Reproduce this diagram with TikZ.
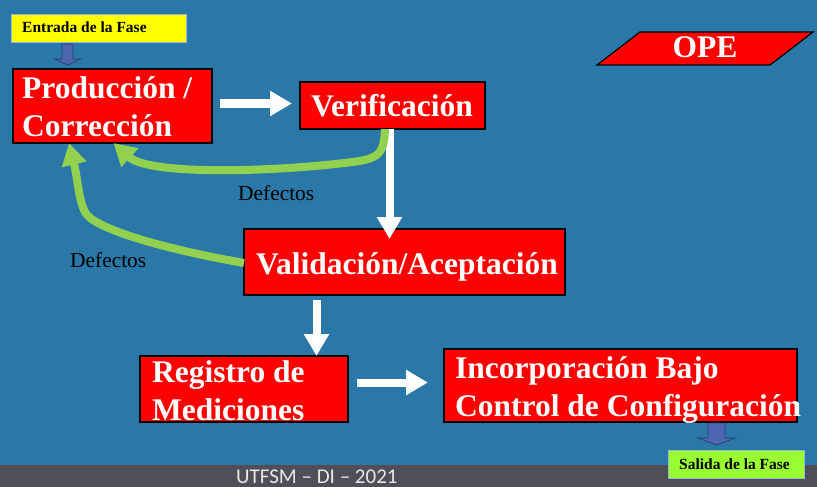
\documentclass[tikz,border=0pt]{standalone}
\usepackage{fontspec}
\setmainfont{Liberation Serif}
\newfontfamily\footfont{Carlito}
\usetikzlibrary{arrows.meta}
\definecolor{bgblue}{RGB}{41,120,168}
\definecolor{bargray}{RGB}{78,79,88}
\definecolor{boxred}{RGB}{255,0,0}
\definecolor{defgreen}{RGB}{146,208,80}
\definecolor{arrblue}{RGB}{76,102,176}
\definecolor{arrblueline}{RGB}{46,63,110}
\definecolor{inyellow}{RGB}{255,255,0}
\definecolor{outgreen}{RGB}{153,255,51}
\definecolor{paleborder}{RGB}{150,185,210}
\definecolor{foottext}{RGB}{232,232,232}
\tikzset{
  redbox/.style={draw=black, line width=1.2pt, fill=boxred, inner sep=0pt, outer sep=0pt},
  boxtext/.style={text=white, font=\bfseries\fontsize{31.5}{37}\selectfont, anchor=base west, inner sep=0pt},
  smallbox/.style={draw=paleborder, line width=0.8pt, inner sep=0pt, outer sep=0pt},
  smalltext/.style={text=black, font=\bfseries\fontsize{15.5}{18}\selectfont, anchor=base west, inner sep=0pt},
  deftext/.style={text=black, font=\fontsize{21.4}{24}\selectfont, anchor=base west, inner sep=0pt},
  whitearrow/.style={draw=white, line width=8pt, -{Triangle[width=24pt,length=22pt]}},
  greenarrow/.style={draw=defgreen, line width=8pt, -{Triangle[width=24pt,length=22pt]}},
  bluearrow/.style={fill=arrblue, draw=arrblueline, line width=0.8pt}
}
\begin{document}
\begin{tikzpicture}[x=1pt,y=-1pt]
\useasboundingbox (0,0) rectangle (817,487);
\clip (0,0) rectangle (817,487);
\fill[bgblue] (0,0) rectangle (817,465);
\fill[bargray] (0,465) rectangle (817,487);

% boxes
\node[redbox, minimum width=199pt, minimum height=74pt] (prod) at (112.5,106) {};
\node[redbox, minimum width=185pt, minimum height=47pt] (verif) at (392.5,105.5) {};
\node[redbox, minimum width=321pt, minimum height=66pt] (valid) at (404.5,262) {};
\node[redbox, minimum width=208pt, minimum height=66pt] (reg) at (244,389) {};
\node[redbox, minimum width=353pt, minimum height=73pt] (inc) at (620.5,385.5) {};
\node[smallbox, fill=inyellow, minimum width=175pt, minimum height=28pt] (entrada) at (98.5,28) {};
\node[smallbox, fill=outgreen, minimum width=136pt, minimum height=28pt] (salida) at (736,464) {};

% OPE parallelogram
\draw[fill=boxred, draw=black, line width=1.2pt] (597,65) -- (640,32) -- (813,32) -- (770,65) -- cycle;
\node[boxtext, anchor=base] (ope) at (705,58) {OPE};

% texts
\node[smalltext] (entradat) at (22,33) {Entrada de la Fase};
\node[smalltext] (salidat) at (679,469) {Salida de la Fase};
\node[boxtext] (prodA) at (22,99) {Producción /};
\node[boxtext] (prodB) at (22,136) {Corrección};
\node[boxtext] (verift) at (311,117) {Verificación};
\node[boxtext] (validt) at (256,274) {Validación/Aceptación};
\node[boxtext] (regA) at (152,382) {Registro de};
\node[boxtext] (regB) at (152,420) {Mediciones};
\node[boxtext] (incA) at (455,378) {Incorporación Bajo};
\node[boxtext] (incB) at (455,416) {Control de Configuración};
\node[deftext] (def1) at (238,200) {Defectos};
\node[deftext] (def2) at (70,267) {Defectos};
\node[anchor=base west, inner sep=0pt, text=foottext, font=\footfont\fontsize{21}{24}\selectfont] (foot) at (236,483) {UTFSM – DI – 2021};

% white arrows
\draw[whitearrow] ([xshift=8pt,yshift=2.5pt]prod.east) -- ([xshift=-8pt,yshift=2pt]verif.west);
\draw[whitearrow] ([xshift=-3pt]verif.south) -- ([xshift=-15pt,yshift=-10pt]valid.north);
\draw[whitearrow] ([xshift=-88pt,yshift=-5pt]valid.south) -- ([xshift=72.5pt]reg.north);
\draw[whitearrow] ([xshift=9pt,yshift=6.5pt]reg.east) -- ([xshift=-16pt,yshift=3pt]inc.west);

% green feedback arrows
\draw[greenarrow] ([xshift=-7.5pt]verif.south) .. controls (384,152) and (380,157) .. (360,161)
   .. controls (280,172) and (150,176) .. ([xshift=1pt]prod.south);
\draw[greenarrow] ([yshift=-1pt]valid.west) .. controls (170,250) and (105,232) .. (88,216)
   .. controls (79,207) and (78,180) .. ([xshift=56pt]prod.south west);

% blue block arrows
\draw[bluearrow, shift={(67.5,44)}] (-5.5,0) -- (5.5,0) -- (5.5,15) -- (13,15) -- (0,21) -- (-13,15) -- (-5.5,15) -- cycle;
\draw[bluearrow, shift={(716.5,423)}] (-8.5,0) -- (8.5,0) -- (8.5,15) -- (18.5,15) -- (0,22) -- (-18.5,15) -- (-8.5,15) -- cycle;
\end{tikzpicture}
\end{document}
